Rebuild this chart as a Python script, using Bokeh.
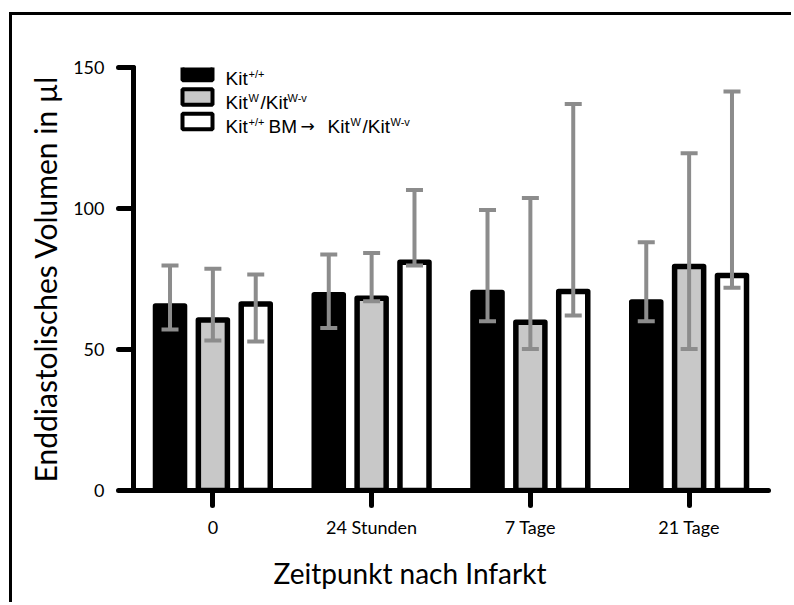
from bokeh.plotting import figure
from bokeh.models import (ColumnDataSource, FactorRange, Range1d, FixedTicker, Whisker,
                          TeeHead, Label, BoxAnnotation, Title)
from bokeh.transform import dodge
from bokeh.embed import file_html
from bokeh.resources import INLINE

# ---- data ----
categories = ["0", "24 Stunden", "7 Tage", "21 Tage"]
kit_wt = [65.4, 69.4, 70.2, 66.8]
kit_wt_hi = [79.8, 83.7, 99.5, 88.0]
kit_wt_lo = [57.1, 57.6, 60.0, 60.0]
kit_w = [60.5, 68.2, 59.7, 79.4]
kit_w_hi = [78.6, 84.2, 103.7, 119.6]
kit_w_lo = [53.2, 67.1, 50.2, 50.2]
bm = [66.1, 80.9, 70.6, 76.2]
bm_hi = [76.6, 106.6, 137.1, 141.5]
bm_lo = [52.8, 79.8, 62.1, 71.9]
y_ticks = [0, 50, 100, 150]

src = ColumnDataSource(dict(cat=categories,
                            wt=kit_wt, wt_hi=kit_wt_hi, wt_lo=kit_wt_lo,
                            w=kit_w, w_hi=kit_w_hi, w_lo=kit_w_lo,
                            bm=bm, bm_hi=bm_hi, bm_lo=bm_lo))

FONT = "Lato"
p = figure(x_range=FactorRange(*categories, range_padding=0), y_range=Range1d(0, 150),
           width=782, height=590, output_backend="svg", toolbar_location=None,
           min_border_left=121, min_border_right=26, min_border_top=52, min_border_bottom=115)
p.styles = {"margin-left": "9px", "margin-top": "12px",
            "border-left": "3px solid black", "border-top": "3px solid black"}
p.outline_line_color = None
p.grid.visible = False

series = [("wt", "black", -0.27), ("w", "#c8c8c8", 0.0), ("bm", "white", 0.27)]
for key, col, off in series:
    p.vbar(x=dodge("cat", off, range=p.x_range), top=key, width=0.183, source=src,
           fill_color=col, line_color="black", line_width=5.5, line_join="round")
for key, col, off in series:
    w = Whisker(base=dodge("cat", off, range=p.x_range), upper=key + "_hi", lower=key + "_lo",
                source=src, line_color="#8c8c8c", line_width=4, level="annotation",
                upper_head=TeeHead(size=17, line_color="#8c8c8c", line_width=4),
                lower_head=TeeHead(size=17, line_color="#8c8c8c", line_width=4))
    p.add_layout(w)

for ax in (p.xaxis[0], p.yaxis[0]):
    ax.axis_line_width = 5
    ax.axis_line_cap = "round"
    ax.major_tick_line_width = 5
    ax.major_tick_line_cap = "round"
    ax.major_tick_in = 0
    ax.major_tick_out = 15
    ax.minor_tick_line_color = None
    ax.major_label_text_font = FONT
    ax.major_label_text_font_size = "18px"
    ax.major_label_text_color = "black"

p.yaxis.ticker = FixedTicker(ticks=y_ticks)
p.yaxis.major_label_standoff = 14
p.yaxis.axis_label = "Enddiastolisches Volumen in µl"
p.yaxis.axis_label_text_font = FONT
p.yaxis.axis_label_text_font_size = "30px"
p.yaxis.axis_label_text_font_style = "normal"
p.yaxis.axis_label_text_color = "black"
p.yaxis.axis_label_standoff = 7
p.xaxis.major_label_standoff = 10

FL, FB = 133, 490  # frame left / bottom in page pixels

# x-axis title (sits left of the frame centre in the reference)
p.add_layout(Title(text="Zeitpunkt nach Infarkt", align="left", offset=273 - FL,
                   text_font=FONT, text_font_size="28px", text_font_style="normal",
                   text_color="black", standoff=27), "below")

# ---- legend (manual, to allow superscripts) ----
box_cols = ["black", "#c8c8c8", "white"]
box_cy = [72, 96.5, 121]
for col, cy in zip(box_cols, box_cy):
    p.add_layout(BoxAnnotation(left=182 - FL, right=212 - FL, bottom=FB - (cy + 7.75),
                               top=FB - (cy - 7.75), left_units="screen", right_units="screen",
                               top_units="screen", bottom_units="screen", fill_color=col,
                               fill_alpha=1, line_color="black", line_width=4, line_alpha=1,
                               level="overlay"))

rows = [
    (78, [("Kit", 225, 0), ("+/+", 248, 1)]),
    (102, [("Kit", 225, 0), ("W", 248, 1), ("/Kit", 260, 0), ("W-v", 287, 1)]),
    (126, [("Kit", 225, 0), ("+/+", 248, 1), ("BM", 268, 0), ("\u2192", 300, 2),
           ("Kit", 327, 0), ("W", 350, 1), ("/Kit", 362, 0), ("W-v", 390, 1)]),
]
for base, parts in rows:
    for txt, x, kind in parts:
        size = {0: "19px", 1: "11px", 2: "17px"}[kind]
        font = "DejaVu Sans" if kind == 2 else "Liberation Sans"
        yb = base - 5 if kind == 1 else (base - 1 if kind == 2 else base)
        p.add_layout(Label(x=x - FL, y=FB - yb, x_units="screen", y_units="screen",
                           text=txt, text_align="left", text_baseline="alphabetic",
                           text_font=font, text_font_size=size, text_color="black"))

open("out.html", "w").write(file_html(p, INLINE))
